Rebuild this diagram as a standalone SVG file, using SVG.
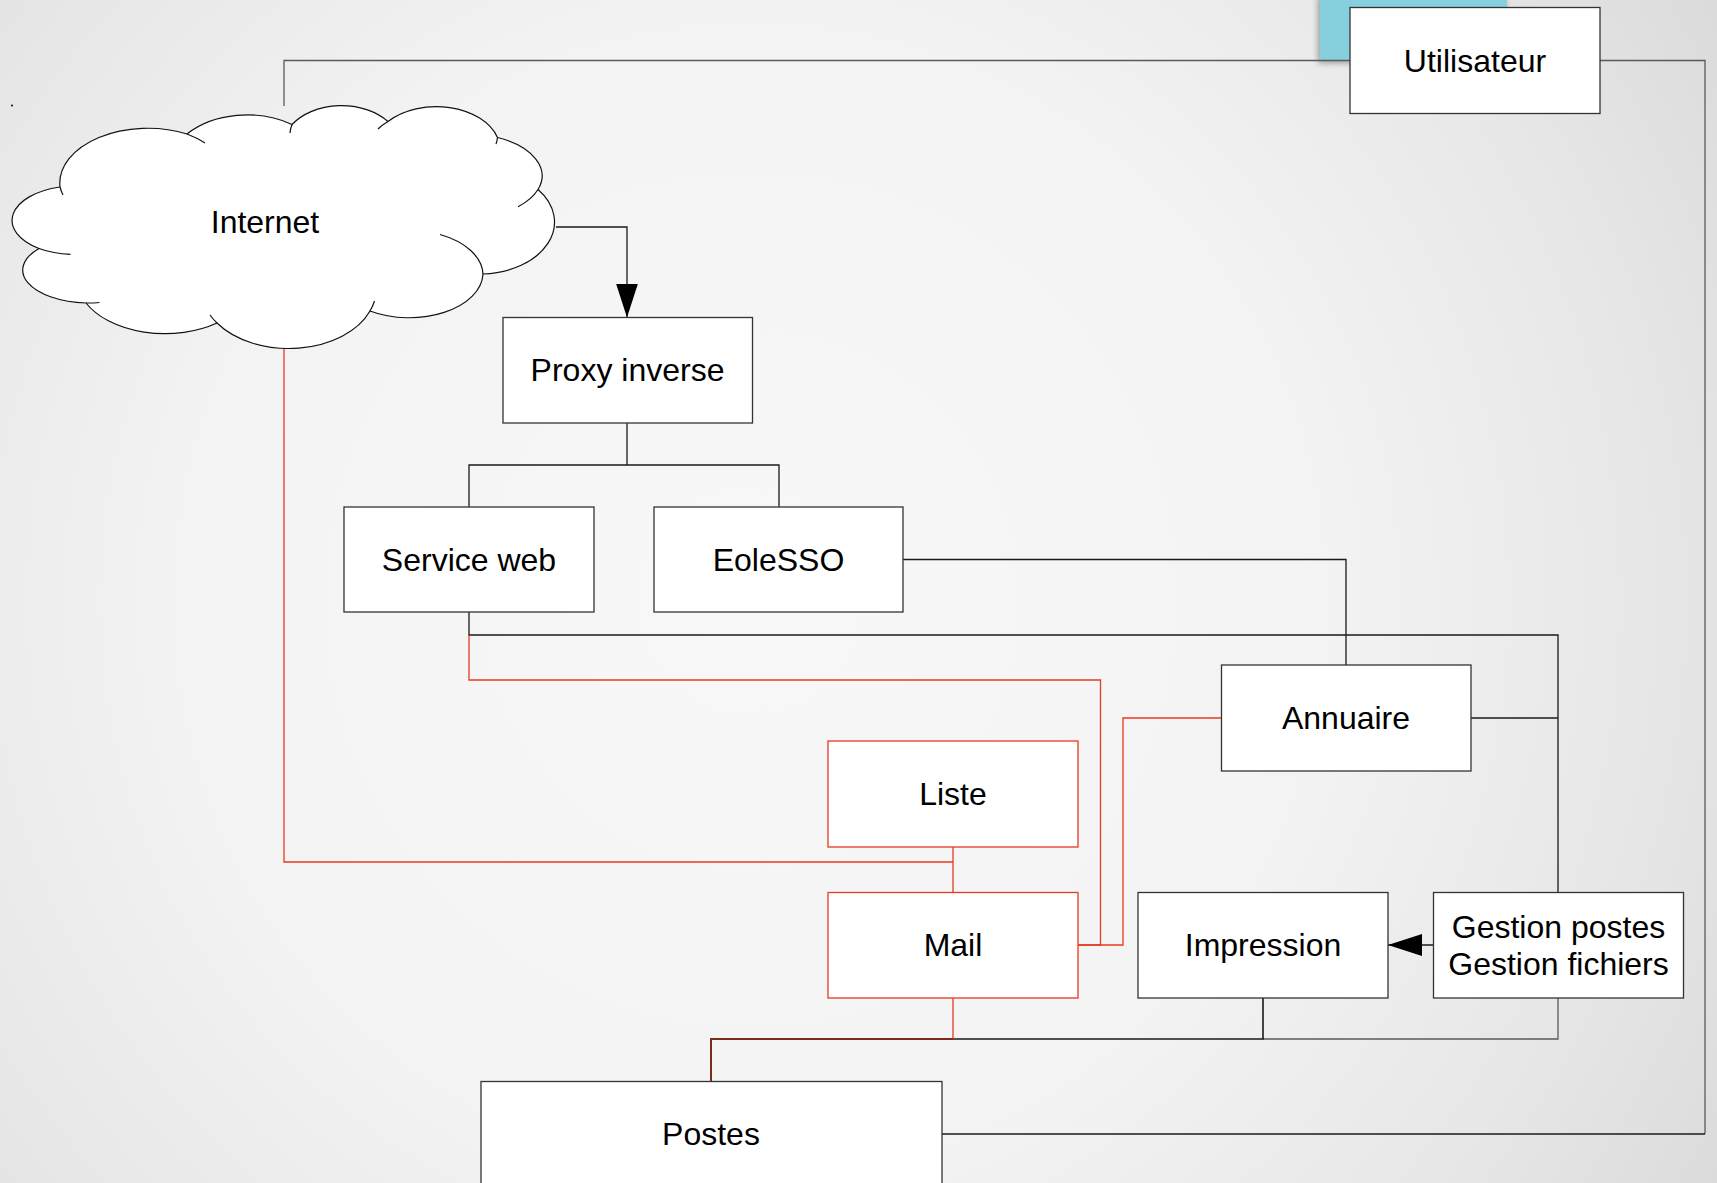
<svg xmlns="http://www.w3.org/2000/svg" width="1717" height="1183" viewBox="0 0 1717 1183">
<defs>
<radialGradient id="bg" gradientUnits="userSpaceOnUse" cx="750" cy="600" r="1150">
<stop offset="0" stop-color="#f8f8f8"/>
<stop offset="0.5" stop-color="#f3f3f3"/>
<stop offset="0.8" stop-color="#e6e6e6"/>
<stop offset="1" stop-color="#dadada"/>
</radialGradient>
<filter id="shadow" x="-10%" y="-10%" width="130%" height="140%">
<feGaussianBlur in="SourceAlpha" stdDeviation="3"/>
<feOffset dx="-2" dy="3" result="b"/>
<feComponentTransfer><feFuncA type="linear" slope="0.35"/></feComponentTransfer>
<feMerge><feMergeNode/><feMergeNode in="SourceGraphic"/></feMerge>
</filter>
<marker id="arrow" markerUnits="userSpaceOnUse" viewBox="0 0 34 22" markerWidth="34" markerHeight="22" refX="34" refY="11" orient="auto">
<path d="M0,0 L34,11 L0,22 z" fill="#000"/>
</marker>
</defs>
<style>
.box{fill:#fff;stroke:#333;stroke-width:1.3}
.rbox{fill:#fff;stroke:#e53b22;stroke-width:1.3}
.lbl{font-family:"Liberation Sans",Arial,sans-serif;font-size:32px;fill:#000;text-anchor:middle}
.c{fill:none;stroke:#1a1a1a;stroke-width:1.3}
.g{fill:none;stroke:#5a5a5a;stroke-width:1.3}
.r{fill:none;stroke:#e53b22;stroke-width:1.3}
.cl{fill:#fff;stroke:#111;stroke-width:1.2}
.tl{fill:none;stroke:#111;stroke-width:1.2}
</style>
<rect width="1717" height="1183" fill="url(#bg)"/>
<rect x="1320" y="-6" width="187" height="66" fill="#86d0de" filter="url(#shadow)"/>
<circle cx="12" cy="105.5" r="1" fill="#000"/>

<g id="connectors">
<path class="g" d="M1350,60.5 H284 V106"/>
<path class="g" d="M1600,60.5 H1705 V1134"/>
<path class="c" d="M1705,1134 H941.5"/>
<path class="c" d="M556,227 H627 V317.5" marker-end="url(#arrow)"/>
<path class="c" d="M627,423 V465 M469,507 V465 H779 V507"/>
<path class="c" d="M903,559.5 H1346 V665"/>
<path class="c" d="M469,612 V635 H1558 V892.5"/>
<path class="c" d="M1471,718 H1558"/>
<path class="c" d="M1433.5,945 H1388" marker-end="url(#arrow)"/>
<path class="g" d="M1558,998 V1039 H1263"/>
<path class="c" d="M1263,998 V1039 H953" style="stroke-width:1.6"/>
<path class="r" d="M284,348 V862 H953"/>
<path class="r" d="M953,847 V892.5"/>
<path class="r" d="M469,635 V680 H1100.5 V945 H1078"/>
<path class="r" d="M1221.5,718 H1123 V945 H1078"/>
<path class="r" d="M953,998 V1039"/>
<path fill="none" stroke="#7c2a1c" stroke-width="2" d="M953,1039 H711 V1081.5"/>
</g>

<g id="internet">
<path class="cl" d="M60,187 A88,55 0 0 1 187,134 A80,56 0 0 1 292,124.5 A60,43.5 0 0 1 388,121.5 A64,43.5 0 0 1 497.5,137.5 A75,42 0 0 1 538,189.5 A75,52 0 0 1 483,274 A74,45 0 0 1 370,311 A87,58.5 0 0 1 217,323 A88,55 0 0 1 86,303 A67,33 0 0 1 39,248.5 A64,34.5 0 0 1 60,187 Z"/>
<path class="tl" d="M63,195 A88,55 0 0 1 60,187 M187,134 A88,55 0 0 1 205,143 M290,133 A60,43.5 0 0 1 292,124.5 M378,129 A64,43.5 0 0 1 388,121.5 M497.5,137.5 A64,43.5 0 0 1 496,144 M538,189.5 A75,42 0 0 1 518,206.7 M440,234.5 A74,45 0 0 1 483,274 M374.5,301 A87,58.5 0 0 1 370,311 M217,323 A87,58.5 0 0 1 210,315 M99.5,302.5 A67,33 0 0 1 86,303 M70.5,254.4 A64,34.5 0 0 1 39,248.5"/>
<text class="lbl" x="265" y="233">Internet</text>
</g>

<g id="utilisateur">
<rect class="box" x="1350" y="7.5" width="250" height="106"/>
<text class="lbl" x="1475" y="71.5">Utilisateur</text>
</g>
<g id="proxy">
<rect class="box" x="503" y="317.5" width="249.5" height="105.5"/>
<text class="lbl" x="627.5" y="381">Proxy inverse</text>
</g>
<g id="serviceweb">
<rect class="box" x="344" y="507" width="250" height="105"/>
<text class="lbl" x="469" y="570.5">Service web</text>
</g>
<g id="eolesso">
<rect class="box" x="654" y="507" width="249" height="105"/>
<text class="lbl" x="778.5" y="570.5">EoleSSO</text>
</g>
<g id="annuaire">
<rect class="box" x="1221.5" y="665" width="249.5" height="106"/>
<text class="lbl" x="1346" y="729">Annuaire</text>
</g>
<g id="liste">
<rect class="rbox" x="828" y="741" width="250" height="106"/>
<text class="lbl" x="953" y="805">Liste</text>
</g>
<g id="mail">
<rect class="rbox" x="828" y="892.5" width="250" height="105.5"/>
<text class="lbl" x="953" y="956">Mail</text>
</g>
<g id="impression">
<rect class="box" x="1138" y="892.5" width="250" height="105.5"/>
<text class="lbl" x="1263" y="956">Impression</text>
</g>
<g id="gestion">
<rect class="box" x="1433.5" y="892.5" width="250" height="105.5"/>
<text class="lbl" x="1558.5" y="938"><tspan x="1558.5" y="938">Gestion postes</tspan><tspan x="1558.5" y="974.5">Gestion fichiers</tspan></text>
</g>
<g id="postes">
<rect class="box" x="481" y="1081.5" width="461" height="106"/>
<text class="lbl" x="711" y="1145">Postes</text>
</g>
</svg>
